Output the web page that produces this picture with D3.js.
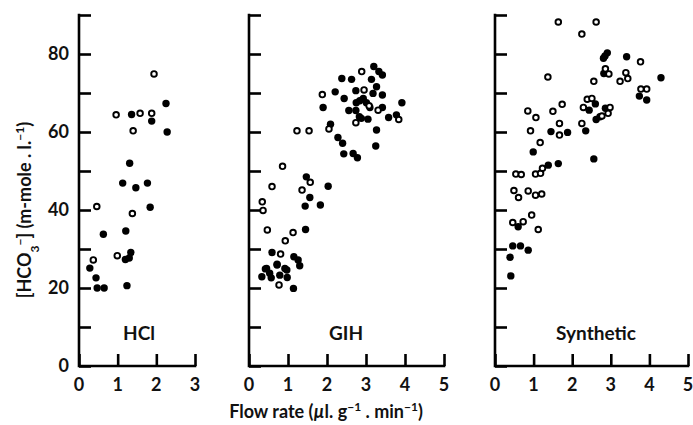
<!DOCTYPE html>
<html>
<head>
<meta charset="utf-8">
<script src="https://cdn.jsdelivr.net/npm/d3@7"></script>
<style>
  body { margin: 0; background: #fff; }
  svg { display: block; }
  .axis-line { stroke: #000; stroke-width: 2.6; fill: none; stroke-linecap: square; }
  .tick-label { font-family: Lato, "DejaVu Sans", sans-serif; font-weight: 700; font-size: 18px; fill: #111; }
  .panel-label { font-family: Lato, "DejaVu Sans", sans-serif; font-weight: 700; font-size: 19px; fill: #111; }
  .axis-title { font-family: Lato, "DejaVu Sans", sans-serif; font-weight: 700; font-size: 18px; fill: #111; }
</style>
</head>
<body>
<div id="chart"></div>
<script>
// flow rate (ul/g/min) vs [HCO3-] (m-mole/l), open and filled symbols per panel
let hclOpen = [[1.94,74.9],[0.96,64.4],[1.58,64.8],[1.88,64.8],[1.40,60.3],[0.46,40.9],[1.38,39.1],[0.99,28.3],[0.37,27.2]];
let hclFilled = [[2.25,67.3],[1.36,64.5],[1.88,62.8],[2.28,60.0],[1.31,52.0],[1.13,46.9],[1.47,45.7],[1.77,46.9],[1.84,40.7],
    [0.63,33.8],[1.21,34.6],[1.34,29.1],[1.30,27.7],[1.20,27.3],[0.28,25.1],[0.44,22.6],[0.47,20.0],[0.65,20.0],[1.24,20.6]];

let gihOpen = [[2.89,75.5],[1.88,69.6],[2.95,70.8],[3.08,66.7],[3.31,65.6],[2.74,62.4],[3.84,63.2],[1.23,60.3],[1.54,60.3],
    [2.05,60.8],[0.86,51.2],[0.59,46.0],[1.36,45.1],[1.57,47.1],[0.34,42.1],[0.36,39.9],[0.47,34.9],[1.13,34.2],[0.93,32.1],
    [0.81,28.7],[0.77,20.8]];
let gihFilled = [[3.20,76.8],[3.33,75.5],[3.42,74.6],[2.38,73.7],[2.63,73.5],[3.14,73.5],[2.21,70.3],[2.74,70.6],[3.27,71.6],
    [2.44,68.6],[3.18,69.9],[3.42,69.5],[2.93,68.6],[2.75,67.5],[3.92,67.5],[3.01,67.5],[1.90,66.3],[2.56,65.5],[2.74,65.5],
    [3.42,66.3],[2.88,63.5],[3.05,63.3],[3.58,63.7],[3.78,64.4],[3.27,60.5],[3.25,56.4],[2.09,62.0],[2.28,58.6],[2.40,57.1],
    [2.43,54.4],[2.67,54.5],[2.78,53.4],[1.47,48.5],[2.03,46.1],[1.56,43.2],[1.44,41.0],[1.83,41.3],[1.45,35.0],[2.84,68.0],
    [3.10,66.3],[2.83,63.9],
    [0.59,29.1],[1.15,28.0],[1.26,27.2],[1.30,25.7],[0.72,25.9],[0.92,25.0],[0.42,24.9],[0.53,23.8],[0.33,22.9],[0.79,23.3],
    [0.98,22.7],[0.57,22.6],[1.14,19.9],[0.45,25.0],[0.72,26.1],[0.97,24.6]];

let synOpen = [[1.64,88.2],[2.62,88.2],[2.25,85.1],[3.77,78.0],[1.37,74.1],[2.86,76.2],[2.95,74.9],[3.39,75.2],[3.44,73.7],
    [3.24,73.0],[2.56,73.0],[3.78,71.0],[3.93,71.0],[0.85,65.4],[1.06,63.7],[1.50,65.3],[1.74,67.1],[2.39,68.4],[2.51,68.6],
    [2.29,66.3],[2.77,64.1],[2.98,66.3],[2.93,64.8],[1.67,62.2],[1.67,59.2],[2.25,62.2],[0.92,60.3],[1.17,57.3],[0.54,49.2],
    [0.68,49.1],[1.05,49.2],[1.18,49.4],[1.23,50.7],[0.49,45.0],[0.61,43.2],[0.86,44.9],[1.05,43.8],[1.21,44.1],[0.46,36.8],
    [0.73,37.0],[0.95,38.7],[1.12,35.0]];
let synFilled = [[2.91,80.3],[2.85,79.5],[2.81,78.9],[3.41,79.3],[4.30,73.9],[2.82,75.0],[3.74,69.2],[3.93,68.2],[2.44,65.6],
    [2.60,67.2],[2.86,66.1],[2.72,63.9],[2.62,63.2],[1.45,60.1],[1.88,59.9],[2.35,60.3],[0.99,54.9],[1.38,51.5],[1.64,51.9],
    [2.56,53.1],[0.60,35.7],[0.46,30.8],[0.66,30.8],[0.86,29.7],[0.39,27.9],[0.41,23.1]];

let panelNames = ["HCl", "GIH", "Synthetic"];
let panelXMax = [3, 5, 5];
let yTicks = [0, 10, 20, 30, 40, 50, 60, 70, 80, 90];
let yTickLabels = [0, 20, 40, 60, 80];

let panels = [
    {name: panelNames[0], xMax: panelXMax[0], open: hclOpen, filled: hclFilled, left: 79, right: 195, labelX: 60},
    {name: panelNames[1], xMax: panelXMax[1], open: gihOpen, filled: gihFilled, left: 249, right: 444, labelX: 97},
    {name: panelNames[2], xMax: panelXMax[2], open: synOpen, filled: synFilled, left: 495, right: 688, labelX: 101}
];

let width = 693, height = 425;
let plotTop = 15, plotBottom = 366;

let svg = d3.select("#chart").append("svg")
    .attr("width", width)
    .attr("height", height);

let y = d3.scaleLinear()
    .domain([0, 90])
    .range([plotBottom, plotTop]);

panels.forEach((p, pi) => {
    let x = d3.scaleLinear()
        .domain([0, p.xMax])
        .range([p.left, p.right]);

    let g = svg.append("g").attr("class", "panel");

    // x axis, ticks pointing inward
    let xAxis = d3.axisTop(x)
        .tickValues(d3.range(0, p.xMax + 1))
        .tickSize(12)
        .tickFormat("");
    let xg = g.append("g")
        .attr("transform", `translate(0,${plotBottom})`)
        .call(xAxis);
    xg.select(".domain").remove();
    xg.selectAll(".tick line").attr("stroke", "#000").attr("stroke-width", 2.6);

    // y axis, ticks pointing inward
    let yAxis = d3.axisRight(y)
        .tickValues(yTicks)
        .tickSize(12)
        .tickFormat("");
    let yg = g.append("g")
        .attr("transform", `translate(${p.left},0)`)
        .call(yAxis);
    yg.select(".domain").remove();
    yg.selectAll(".tick line").attr("stroke", "#000").attr("stroke-width", 2.6);

    g.append("path")
        .attr("class", "axis-line")
        .attr("d", `M${p.left},${y(90)}V${plotBottom}H${x(p.xMax)}`);

    // x tick labels
    g.selectAll(".xlab")
        .data(d3.range(0, p.xMax + 1))
        .enter()
        .append("text")
        .attr("class", "tick-label")
        .attr("x", d => x(d))
        .attr("y", plotBottom + 25)
        .attr("text-anchor", "middle")
        .text(d => d);

    if (pi === 0) {
        g.selectAll(".ylab")
            .data(yTickLabels)
            .enter()
            .append("text")
            .attr("class", "tick-label")
            .attr("x", p.left - 10)
            .attr("y", d => y(d))
            .attr("dy", "0.35em")
            .attr("text-anchor", "end")
            .text(d => d);
    }

    // panel label
    g.append("text")
        .attr("class", "panel-label")
        .attr("x", p.left + p.labelX)
        .attr("y", y(6.7))
        .attr("text-anchor", "middle")
        .text(p.name);

    // points
    g.selectAll(".filled")
        .data(p.filled)
        .enter()
        .append("circle")
        .attr("class", "filled")
        .attr("cx", d => x(d[0]))
        .attr("cy", d => y(d[1]))
        .attr("r", 3.7)
        .attr("fill", "#000");

    g.selectAll(".open")
        .data(p.open)
        .enter()
        .append("circle")
        .attr("class", "open")
        .attr("cx", d => x(d[0]))
        .attr("cy", d => y(d[1]))
        .attr("r", 2.8)
        .attr("fill", "#fff")
        .attr("stroke", "#000")
        .attr("stroke-width", 1.9);
});

// axis titles
let xTitle = svg.append("text")
    .attr("class", "axis-title")
    .attr("x", 326)
    .attr("y", 418)
    .attr("text-anchor", "middle");
xTitle.append("tspan").text("Flow rate (");
xTitle.append("tspan").attr("font-style", "italic").text("µ");
xTitle.append("tspan").text("l. g");
xTitle.append("tspan").attr("font-size", "12px").attr("baseline-shift", "super").text("−1");
xTitle.append("tspan").text(" . min");
xTitle.append("tspan").attr("font-size", "12px").attr("baseline-shift", "super").text("−1");
xTitle.append("tspan").text(")");

let yTitle = svg.append("text")
    .attr("class", "axis-title")
    .attr("transform", "translate(31,210)rotate(-90)")
    .attr("text-anchor", "middle");
yTitle.append("tspan").text("[HCO");
yTitle.append("tspan").attr("font-size", "12px").attr("baseline-shift", "sub").text("3");
yTitle.append("tspan").attr("font-size", "12px").attr("baseline-shift", "super").text("−");
yTitle.append("tspan").text("] (m-mole . l.");
yTitle.append("tspan").attr("font-size", "12px").attr("baseline-shift", "super").text("−1");
yTitle.append("tspan").text(")");
</script>
</body>
</html>
